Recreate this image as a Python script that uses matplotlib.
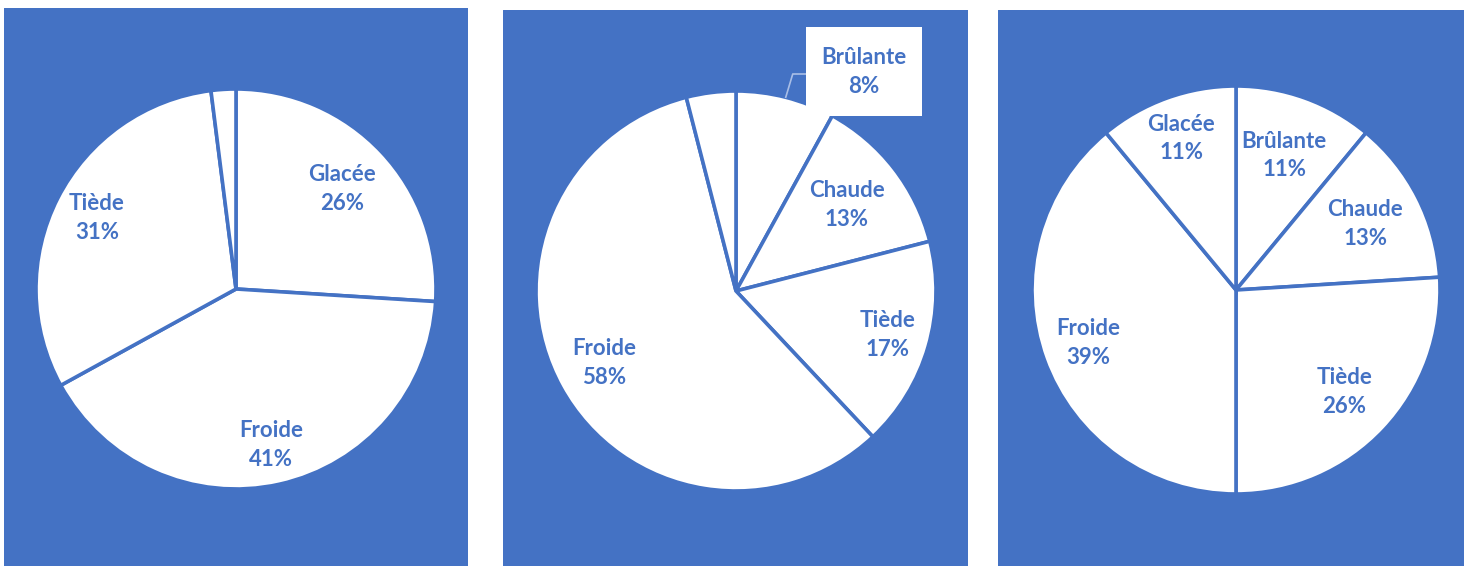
import matplotlib
matplotlib.use("Agg")
import matplotlib.pyplot as plt
from matplotlib.patches import Rectangle
import numpy as np

# Temperature-category shares for three samples (percent, clockwise from 12 o'clock)
labels_1 = ["Glacée", "Froide", "Tiède", ""]
values_1 = [26, 41, 31, 2]

labels_2 = ["Brûlante", "Chaude", "Tiède", "Froide", ""]
values_2 = [8, 13, 17, 58, 4]

labels_3 = ["Brûlante", "Chaude", "Tiède", "Froide", "Glacée"]
values_3 = [11, 13, 26, 39, 11]

BLUE = "#4472C4"
W, H = 1464, 566
DPI = 100
FS = 16
LS = 1.45

plt.rcParams["font.family"] = ["Lato", "DejaVu Sans"]

fig = plt.figure(figsize=(W / DPI, H / DPI), dpi=DPI, facecolor="white")

# panel frame (left, top, right) in pixels, pie centre, radius, label radial factors
panels = [
    dict(frame=(4, 8, 468), center=(236, 289), radius=200,
         labels=labels_1, values=values_1, dist=[0.73, 0.80, 0.78, 0]),
    dict(frame=(503, 10, 968), center=(736, 291), radius=200,
         labels=labels_2, values=values_2, dist=[None, 0.70, 0.79, 0.75, 0]),
    dict(frame=(998, 10, 1464), center=(1236, 290), radius=204,
         labels=labels_3, values=values_3, dist=[0.70, 0.71, 0.73, 0.77, 0.79]),
]

for p in panels:
    left, top, right = p["frame"]
    ax = fig.add_axes([left / W, 0, (right - left) / W, (H - top) / H])
    ax.set_facecolor(BLUE)
    ax.add_patch(Rectangle((left, 0), right - left, H - top, color=BLUE, zorder=0))

    cx, cy = p["center"][0], H - p["center"][1]
    r = p["radius"]
    wedges, _ = ax.pie(p["values"], startangle=90, counterclock=False,
                       center=(cx, cy), radius=r, colors=["white"] * len(p["values"]),
                       wedgeprops=dict(edgecolor=BLUE, linewidth=2.6),
                       frame=True)
    ax.set_xlim(left, right)
    ax.set_ylim(0, H - top)
    ax.set_aspect("equal")
    ax.axis("off")

    total = sum(p["values"])
    for w, lab, val, d in zip(wedges, p["labels"], p["values"], p["dist"]):
        if not lab:
            continue
        mid = np.deg2rad((w.theta1 + w.theta2) / 2)
        text = f"{lab}\n{round(100 * val / total)}%"
        if d is None:
            # callout outside the pie with a leader line
            ex, ey = cx + r * np.cos(mid), cy + r * np.sin(mid)
            bx, by = cx + 128, cy + 219
            ax.plot([ex, ex + 7, bx - 58], [ey, by - 2, by - 2],
                    color="#A9BEE6", lw=1.2, zorder=3)
            ax.add_patch(Rectangle((bx - 58, by - 44), 116, 89,
                                   facecolor="white", edgecolor="none", zorder=4))
            ax.text(bx, by, text, ha="center", va="center", color=BLUE,
                    fontsize=FS, fontweight="bold", linespacing=LS, zorder=5)
        else:
            tx, ty = cx + d * r * np.cos(mid), cy + d * r * np.sin(mid)
            ax.text(tx, ty, text, ha="center", va="center", color=BLUE,
                    fontsize=FS, fontweight="bold", linespacing=LS, zorder=5)

fig.savefig("out.png", dpi=DPI, facecolor="white")
